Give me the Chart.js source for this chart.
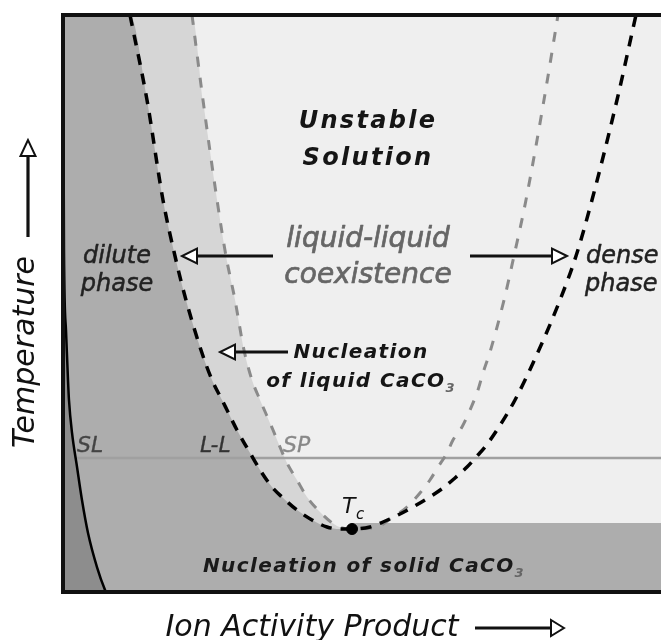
<!DOCTYPE html>
<html><head><meta charset="utf-8">
<script src="https://cdn.jsdelivr.net/npm/chart.js@4.4.0/dist/chart.umd.min.js"></script>
<style>
html,body{margin:0;padding:0;background:#fff;overflow:hidden;width:661px;height:640px}
#wrap{width:680px;height:640px}
</style></head>
<body><div id="wrap"><canvas id="c" width="680" height="640"></canvas></div>
<script>
// Phase diagram data, arbitrary units: x = ion activity product (0-100), y = temperature (0-100)
const binodalLeft = [[10.98,100],[13.77,85.27],[16.39,67.94],[18.36,58.23],[20.16,50.61],[22.62,41.94],[24.43,36.74],[26.07,33.28],[26.89,31.54],[28.52,28.08],[31.15,23.22],[32.62,20.62],[34.26,18.20],[35.90,16.46],[38.36,14.21],[40.82,12.48],[43.28,11.27],[45.41,10.92],[47.38,10.92]];
const binodalRight = [[50.33,11.27],[52.46,12.13],[54.92,13.34],[57.38,14.73],[59.84,16.29],[62.30,18.02],[64.26,19.76],[66.23,21.66],[68.03,23.74],[69.18,25.13],[71.15,28.08],[74.10,33.28],[77.87,41.59],[81.48,50.61],[84.10,58.23],[86.72,67.94],[90.82,85.27],[93.93,100]];
const spinodalLeft = [[21.15,100],[22.95,85.27],[25.25,67.94],[26.72,58.23],[28.20,50.61],[29.67,41.94],[30.98,36.74],[32.30,33.28],[34.43,28.08],[35.57,25.13],[36.72,22.36],[38.36,19.41],[40.00,16.46],[42.13,13.86],[44.92,11.44],[47.38,10.92]];
const spinodalRight = [[51.48,11.27],[54.10,13.00],[56.39,14.73],[58.52,17.16],[60.16,19.41],[61.48,21.66],[62.95,24.09],[63.93,26.34],[65.41,28.60],[66.72,31.54],[68.03,35.01],[68.85,37.95],[70.00,41.59],[72.30,50.61],[73.93,58.23],[75.90,67.94],[78.85,85.27],[81.15,100]];
const solubilityLine = [[0.02,100],[0.16,59.27],[0.49,45.41],[0.82,36.74],[0.98,33.28],[1.48,27.56],[2.30,21.66],[3.11,15.94],[4.10,10.23],[5.57,4.33],[6.89,0.35],[7.05,0]];
const criticalPoint = [[47.38,10.92]];
const solidNucleationT = 11.96;   // lower boundary of the liquid region right of Tc
const isothermT = 23.22;          // horizontal isotherm
const isothermStartX = 2.13;
const axisMinX = 0, axisMaxX = 100, axisMinY = 0, axisMaxY = 100;

const pts = a => a.map(p => ({x:p[0], y:p[1]}));

const lightBandData = pts([[axisMinX,axisMaxY]].concat(spinodalLeft));
const darkRegionData = pts([[axisMinX,axisMaxY]].concat(binodalLeft, [[criticalPoint[0][0]+0.01,solidNucleationT],[axisMaxX,solidNucleationT]]));
const binodalData = pts(binodalLeft.concat(binodalRight));
const spinodalData = pts(spinodalLeft.concat(spinodalRight));
const isothermData = pts([[isothermStartX,isothermT],[axisMaxX,isothermT]]);

const FONT = "'DejaVu Sans'";

function drawText(ctx, s, x, y, font, color, align, spacing, stroke) {
  ctx.save();
  ctx.font = font; ctx.fillStyle = color; ctx.textAlign = align || 'center';
  ctx.textBaseline = 'alphabetic';
  if ('letterSpacing' in ctx) ctx.letterSpacing = (spacing || 0) + 'px';
  ctx.fillText(s, x, y);
  if (stroke) { ctx.strokeStyle = color; ctx.lineWidth = stroke; ctx.lineJoin = 'round'; ctx.strokeText(s, x, y); }
  ctx.restore();
}
function drawRich(ctx, parts, cx, y, spacing) {
  ctx.save();
  ctx.textBaseline = 'alphabetic'; ctx.textAlign = 'left';
  if ('letterSpacing' in ctx) ctx.letterSpacing = (spacing || 0) + 'px';
  let total = 0;
  parts.forEach(p => { ctx.font = p.f; p.w = ctx.measureText(p.t).width; total += p.w; });
  let x = cx - total / 2;
  parts.forEach(p => { ctx.font = p.f; ctx.fillStyle = p.c; ctx.fillText(p.t, x, y + (p.dy || 0)); x += p.w; });
  ctx.restore();
}
function arrow(ctx, x1, y1, x2, y2, headLen, headHalf) {
  const ang = Math.atan2(y2 - y1, x2 - x1);
  const bx = x2 - headLen * Math.cos(ang), by = y2 - headLen * Math.sin(ang);
  ctx.save();
  ctx.strokeStyle = '#111'; ctx.lineWidth = 3.2; ctx.lineCap = 'butt';
  ctx.beginPath(); ctx.moveTo(x1, y1); ctx.lineTo(bx, by); ctx.stroke();
  ctx.beginPath();
  ctx.moveTo(x2, y2);
  ctx.lineTo(bx + headHalf * Math.sin(ang), by - headHalf * Math.cos(ang));
  ctx.lineTo(bx - headHalf * Math.sin(ang), by + headHalf * Math.cos(ang));
  ctx.closePath();
  ctx.fillStyle = '#fff'; ctx.fill();
  ctx.lineWidth = 2; ctx.lineJoin = 'miter'; ctx.stroke();
  ctx.restore();
}

const bgPlugin = {
  id: 'bg',
  beforeDraw(chart) {
    const {ctx, chartArea: a} = chart;
    ctx.save(); ctx.fillStyle = '#efefef';
    ctx.fillRect(a.left, a.top, a.right - a.left, a.bottom - a.top);
    ctx.restore();
  }
};

const annotPlugin = {
  id: 'annot',
  afterDraw(chart) {
    const {ctx, chartArea: a} = chart;
    ctx.save(); ctx.strokeStyle = '#111'; ctx.lineWidth = 4;
    ctx.strokeRect(a.left, a.top, a.right - a.left, a.bottom - a.top);
    ctx.restore();

    drawText(ctx, 'Unstable', 368, 128, `italic bold 24px ${FONT}`, '#151515', 'center', 2.3);
    drawText(ctx, 'Solution', 368, 165, `italic bold 24px ${FONT}`, '#151515', 'center', 2.3);

    drawText(ctx, 'liquid-liquid', 368, 247, `italic 28px ${FONT}`, '#666', 'center', 0, 0.7);
    drawText(ctx, 'coexistence', 368, 283, `italic 28px ${FONT}`, '#666', 'center', 0, 0.7);

    drawText(ctx, 'dilute', 117, 263, `italic 24px ${FONT}`, '#222', 'center', 0, 0.5);
    drawText(ctx, 'phase', 117, 291, `italic 24px ${FONT}`, '#222', 'center', 0, 0.5);
    drawText(ctx, 'dense', 586, 263, `italic 24px ${FONT}`, '#222', 'left', 0, 0.5);
    drawText(ctx, 'phase', 585, 291, `italic 24px ${FONT}`, '#222', 'left', 0, 0.5);

    arrow(ctx, 273, 256, 182, 256, 15, 7.5);
    arrow(ctx, 470, 256, 567, 256, 15, 7.5);
    arrow(ctx, 288, 352, 220, 352, 15, 7.5);

    drawText(ctx, 'Nucleation', 361, 358, `italic bold 20px ${FONT}`, '#151515', 'center', 1.4);
    drawRich(ctx, [
      {t:'of liquid CaCO', f:`italic bold 20px ${FONT}`, c:'#151515'},
      {t:'3', f:`italic bold 13px ${FONT}`, c:'#666', dy:5}
    ], 361, 387, 1.4);

    drawText(ctx, 'SL', 77, 452, `italic 22px ${FONT}`, '#444', 'left', 0, 0.3);
    drawText(ctx, 'L-L', 200, 452, `italic 22px ${FONT}`, '#333', 'left', 0, 0.3);
    drawText(ctx, 'SP', 283, 452, `italic 22px ${FONT}`, '#888', 'left', 0, 0.3);

    drawText(ctx, 'T', 342, 513, `italic 22px ${FONT}`, '#111', 'left');
    drawText(ctx, 'c', 356, 519, `italic 15px ${FONT}`, '#111', 'left');

    drawRich(ctx, [
      {t:'Nucleation of solid CaCO', f:`italic bold 20px ${FONT}`, c:'#1a1a1a'},
      {t:'3', f:`italic bold 13px ${FONT}`, c:'#666', dy:5}
    ], 364, 572, 1.4);

    ctx.save();
    ctx.translate(34, 352); ctx.rotate(-Math.PI / 2);
    drawText(ctx, 'Temperature', 0, 0, `italic 30px ${FONT}`, '#111', 'center');
    ctx.restore();
    arrow(ctx, 28, 237, 28, 140, 16, 7.5);

    drawText(ctx, 'Ion Activity Product', 312, 636, `italic 30px ${FONT}`, '#111', 'center');
    arrow(ctx, 475, 628, 564, 628, 13, 8);
  }
};

new Chart(document.getElementById('c'), {
  type: 'line',
  data: {
    datasets: [
      {label:'critical point', data: pts(criticalPoint), showLine:false, pointRadius:5.5, pointBackgroundColor:'#000', pointBorderColor:'#000', order:1},
      {label:'solubility', data: pts(solubilityLine), borderColor:'#000', borderWidth:2.5, pointRadius:0, fill:'start', backgroundColor:'#8d8d8d', order:2, cubicInterpolationMode:'monotone'},
      {label:'binodal', data: binodalData, borderColor:'#000', borderWidth:3.5, borderDash:[11,9], pointRadius:0, fill:false, order:3, cubicInterpolationMode:'monotone'},
      {label:'spinodal', data: spinodalData, borderColor:'#8a8a8a', borderWidth:3, borderDash:[10,11], pointRadius:0, fill:false, order:4, cubicInterpolationMode:'monotone'},
      {label:'isotherm', data: isothermData, borderColor:'#a0a0a0', borderWidth:2.5, pointRadius:0, fill:false, order:5},
      {label:'dilute region', data: darkRegionData, borderWidth:0, borderColor:'rgba(0,0,0,0)', pointRadius:0, fill:'start', backgroundColor:'#adadad', order:20, cubicInterpolationMode:'monotone'},
      {label:'metastable band', data: lightBandData, borderWidth:0, borderColor:'rgba(0,0,0,0)', pointRadius:0, fill:'start', backgroundColor:'#d6d6d6', order:30, cubicInterpolationMode:'monotone'}
    ]
  },
  options: {
    responsive: false, animation: false, devicePixelRatio: 1,
    layout: {padding: {left:63, top:15, right:7, bottom:48}},
    scales: {
      x: {type:'linear', min:axisMinX, max:axisMaxX, display:false},
      y: {type:'linear', min:axisMinY, max:axisMaxY, display:false}
    },
    plugins: {legend:{display:false}, tooltip:{enabled:false}}
  },
  plugins: [bgPlugin, annotPlugin]
});
</script>
</body></html>
